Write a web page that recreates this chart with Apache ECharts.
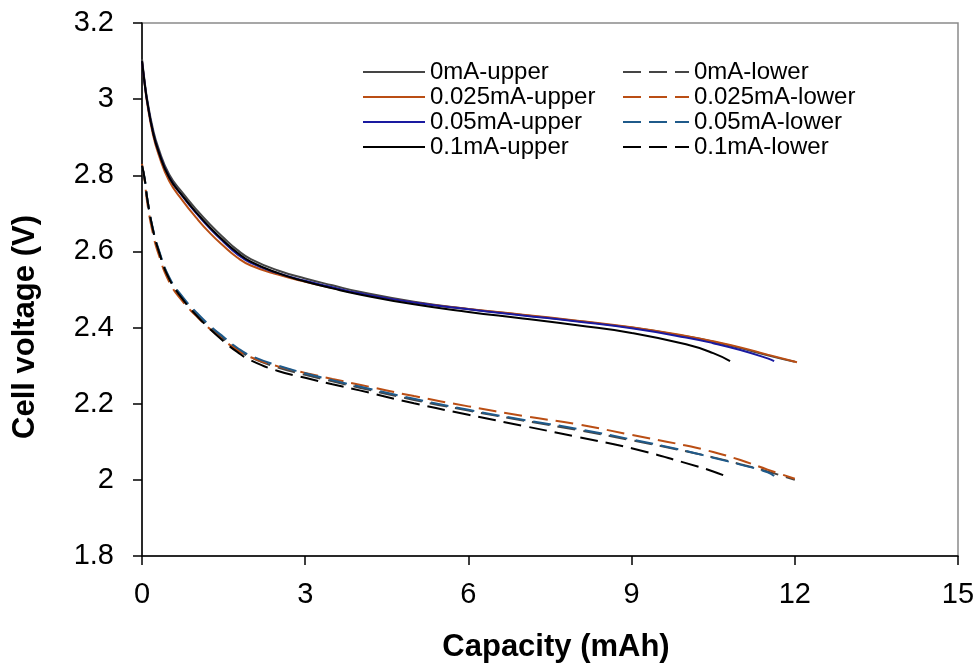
<!DOCTYPE html>
<html>
<head>
<meta charset="utf-8">
<script src="https://cdn.jsdelivr.net/npm/echarts@6/dist/echarts.min.js"></script>
<style>
html,body{margin:0;padding:0;background:#fff;}
#chart{width:980px;height:669px;}
</style>
</head>
<body>
<div id="chart"></div>
<script>
// ---- Data ----
const xTicks = [0, 3, 6, 9, 12, 15];
const yTicks = [1.8, 2.0, 2.2, 2.4, 2.6, 2.8, 3.0, 3.2];
const xTitle = 'Capacity (mAh)';
const yTitle = 'Cell voltage (V)';

// Upper curves
const up0X   = [0,0.05,0.1,0.2,0.3,0.5,0.75,1.0,1.25,1.5,1.75,2.0,2.5,3.0,3.5,4.0,5.0,6.0,7.0,8.0,9.0,10.0,10.5,11.0,11.5,12.0];
const up0Y   = [3.105,3.045,2.995,2.922,2.872,2.802,2.753,2.710,2.671,2.636,2.604,2.580,2.550,2.529,2.511,2.494,2.468,2.449,2.433,2.417,2.400,2.377,2.363,2.346,2.327,2.310];
const up025X = [0,0.05,0.1,0.2,0.3,0.5,0.75,1.0,1.25,1.5,1.75,2.0,2.5,3.0,3.5,4.0,5.0,6.0,7.0,8.0,9.0,10.0,10.5,11.0,11.5,12.04];
const up025Y = [3.100,3.038,2.985,2.908,2.857,2.785,2.733,2.688,2.648,2.614,2.584,2.563,2.539,2.520,2.504,2.489,2.466,2.449,2.434,2.418,2.401,2.378,2.364,2.348,2.329,2.309];
const up05X  = [0,0.05,0.1,0.2,0.3,0.5,0.75,1.0,1.25,1.5,1.75,2.0,2.5,3.0,3.5,4.0,5.0,6.0,7.0,8.0,9.0,10.0,10.5,11.0,11.5,11.62];
const up05Y  = [3.100,3.040,2.990,2.915,2.865,2.795,2.744,2.700,2.660,2.625,2.593,2.570,2.543,2.523,2.506,2.490,2.466,2.448,2.432,2.416,2.398,2.374,2.359,2.341,2.319,2.312];
const up1X   = [0,0.05,0.1,0.2,0.3,0.5,0.75,1.0,1.25,1.5,1.75,2.0,2.5,3.0,3.5,4.0,5.0,6.0,7.0,8.0,9.0,10.0,10.5,10.81];
const up1Y   = [3.100,3.040,2.990,2.914,2.864,2.794,2.745,2.702,2.663,2.628,2.597,2.573,2.543,2.521,2.503,2.487,2.461,2.441,2.424,2.406,2.386,2.356,2.333,2.312];

// Lower curves
const lo0X   = [0,0.05,0.1,0.2,0.3,0.5,0.75,1.0,1.25,1.5,1.75,2.0,2.5,3.0,3.5,4.0,5.0,6.0,7.0,8.0,9.0,10.0,10.5,11.0,11.5,12.0];
const lo0Y   = [2.825,2.790,2.735,2.658,2.605,2.530,2.477,2.436,2.401,2.370,2.343,2.322,2.295,2.276,2.259,2.242,2.210,2.182,2.156,2.131,2.104,2.075,2.059,2.041,2.022,2.000];
const lo025X = [0,0.05,0.1,0.2,0.3,0.5,0.75,1.0,1.25,1.5,1.75,2.0,2.5,3.0,3.5,4.0,5.0,6.0,7.0,8.0,9.0,10.0,10.5,11.0,11.5,12.0];
const lo025Y = [2.830,2.785,2.725,2.648,2.595,2.520,2.468,2.430,2.396,2.367,2.341,2.322,2.298,2.281,2.265,2.250,2.220,2.193,2.168,2.146,2.118,2.090,2.073,2.052,2.027,2.003];
const lo05X  = [0,0.05,0.1,0.2,0.3,0.5,0.75,1.0,1.25,1.5,1.75,2.0,2.5,3.0,3.5,4.0,5.0,6.0,7.0,8.0,9.0,10.0,10.5,11.0,11.5,11.62];
const lo05Y  = [2.825,2.790,2.735,2.660,2.608,2.532,2.480,2.440,2.405,2.375,2.347,2.326,2.300,2.280,2.262,2.245,2.213,2.184,2.158,2.134,2.106,2.076,2.058,2.040,2.020,2.010];
const lo1X   = [0,0.05,0.1,0.2,0.3,0.5,0.75,1.0,1.25,1.5,1.75,2.0,2.5,3.0,3.5,4.0,5.0,6.0,7.0,8.0,9.0,10.0,10.5,10.81];
const lo1Y   = [2.825,2.790,2.735,2.658,2.604,2.528,2.474,2.432,2.396,2.364,2.336,2.314,2.286,2.268,2.251,2.235,2.201,2.171,2.142,2.113,2.083,2.044,2.022,2.005];

const names = ['0mA-upper','0.025mA-upper','0.05mA-upper','0.1mA-upper',
               '0mA-lower','0.025mA-lower','0.05mA-lower','0.1mA-lower'];
// ---- end data ----

function pairs(xs, ys){ return xs.map((x,i)=>[x, ys[i]]); }

const FONT = '"Liberation Sans", Arial, sans-serif';
const DASH = [18, 8];

function mk(name, xs, ys, color, dashed){
  return {
    name: name,
    type: 'line',
    data: pairs(xs, ys),
    smooth: 0.5,
    symbol: 'none',
    showSymbol: false,
    lineStyle: {color: color, width: 2, type: dashed ? DASH : 'solid'},
    itemStyle: {color: color},
    emphasis: {disabled: true},
    animation: false
  };
}

const legendCommon = {
  orient: 'vertical', top: 55,
  itemHeight: 14, itemGap: 1,
  itemStyle: {opacity: 0, borderWidth: 0},
  textStyle: {fontFamily: FONT, fontSize: 24, color: '#000'},
  selectedMode: false
};

const chart = echarts.init(document.getElementById('chart'), null, {renderer: 'canvas'});
chart.setOption({
  backgroundColor: '#ffffff',
  animation: false,
  grid: {left: 142, right: 22, top: 23, bottom: 113, show: true,
         borderColor: '#8a8a8a', borderWidth: 1.5, backgroundColor: 'transparent'},
  legend: [
    Object.assign({}, legendCommon, {data: names.slice(0,4), left: 357, itemWidth: 62}),
    Object.assign({}, legendCommon, {data: names.slice(4), left: 617, itemWidth: 66})
  ],
  graphic: [
    {type: 'text', x: 556, y: 647, z: 10,
     style: {text: xTitle, font: 'bold 31px ' + FONT, fill: '#000', align: 'center', verticalAlign: 'middle'}},
    {type: 'text', x: 25, y: 327, rotation: Math.PI/2, z: 10,
     style: {text: yTitle, font: 'bold 31px ' + FONT, fill: '#000', align: 'center', verticalAlign: 'middle'}}
  ],
  xAxis: {
    type: 'value', min: xTicks[0], max: xTicks[xTicks.length-1], interval: 3,
    axisLine: {show: true, onZero: false, lineStyle: {color: '#000', width: 1.5}},
    axisTick: {show: true, inside: false, length: 9, lineStyle: {color: '#000', width: 1.5}},
    axisLabel: {fontFamily: FONT, fontSize: 29, color: '#000', margin: 24},
    splitLine: {show: false}
  },
  yAxis: {
    type: 'value', min: yTicks[0], max: yTicks[yTicks.length-1], interval: 0.2,
    axisLine: {show: true, onZero: false, lineStyle: {color: '#000', width: 1.5}},
    axisTick: {show: true, inside: false, length: 9, lineStyle: {color: '#000', width: 1.5}},
    axisLabel: {fontFamily: FONT, fontSize: 29, color: '#000', margin: 28,
      formatter: v => String(Math.round(v*10)/10)},
    splitLine: {show: false}
  },
  series: [
    mk(names[0], up0X, up0Y, '#454545', false),
    mk(names[1], up025X, up025Y, '#BA4E14', false),
    mk(names[2], up05X, up05Y, '#1A1AA0', false),
    mk(names[3], up1X, up1Y, '#000000', false),
    mk(names[4], lo0X, lo0Y, '#454545', true),
    mk(names[5], lo025X, lo025Y, '#BA4E14', true),
    mk(names[6], lo05X, lo05Y, '#1F5A8A', true),
    mk(names[7], lo1X, lo1Y, '#000000', true)
  ]
});
</script>
</body>
</html>
